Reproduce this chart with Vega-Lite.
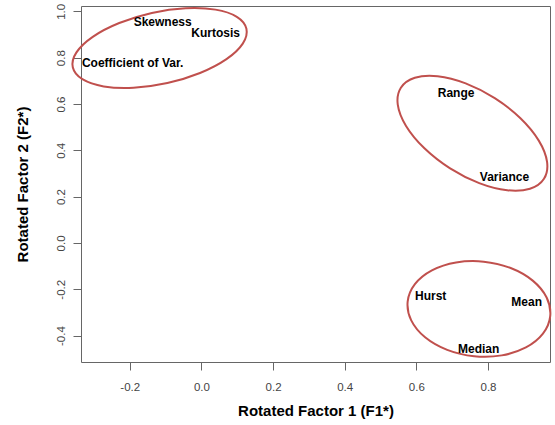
{
  "$schema": "https://vega.github.io/schema/vega-lite/v6.json",
  "autosize": {"type": "none"},
  "padding": {"left": 81, "top": 6, "right": 5, "bottom": 63},
  "width": 469,
  "height": 356,
  "background": "white",
  "config": {
    "view": {"stroke": "#666", "strokeWidth": 1},
    "axis": {
      "grid": false,
      "domain": false,
      "tickColor": "#666",
      "tickSize": 8,
      "tickWidth": 1,
      "labelFont": "Liberation Sans",
      "labelFontSize": 11.5,
      "labelColor": "#444",
      "titleFont": "Liberation Sans",
      "titleFontSize": 15,
      "titleFontWeight": "bold",
      "titleColor": "#000"
    }
  },
  "datasets": {
    "labels": [
      {"name": "Skewness", "f1": -0.108, "f2": 0.954},
      {"name": "Kurtosis", "f1": 0.040, "f2": 0.905},
      {"name": "Coefficient of Var.", "f1": -0.192, "f2": 0.776},
      {"name": "Range", "f1": 0.711, "f2": 0.646},
      {"name": "Variance", "f1": 0.846, "f2": 0.286},
      {"name": "Hurst", "f1": 0.640, "f2": -0.229},
      {"name": "Mean", "f1": 0.908, "f2": -0.253},
      {"name": "Median", "f1": 0.774, "f2": -0.459}
    ],
    "ellipses": [
      {"group": "A", "i": 0, "f1": 0.1257, "f2": 0.9247},
      {"group": "A", "i": 1, "f1": 0.1155, "f2": 0.8605},
      {"group": "A", "i": 2, "f1": 0.0700, "f2": 0.7934},
      {"group": "A", "i": 3, "f1": -0.0038, "f2": 0.7336},
      {"group": "A", "i": 4, "f1": -0.0949, "f2": 0.6903},
      {"group": "A", "i": 5, "f1": -0.1893, "f2": 0.6700},
      {"group": "A", "i": 6, "f1": -0.2726, "f2": 0.6759},
      {"group": "A", "i": 7, "f1": -0.3321, "f2": 0.7069},
      {"group": "A", "i": 8, "f1": -0.3589, "f2": 0.7585},
      {"group": "A", "i": 9, "f1": -0.3487, "f2": 0.8227},
      {"group": "A", "i": 10, "f1": -0.3032, "f2": 0.8899},
      {"group": "A", "i": 11, "f1": -0.2293, "f2": 0.9496},
      {"group": "A", "i": 12, "f1": -0.1383, "f2": 0.9929},
      {"group": "A", "i": 13, "f1": -0.0439, "f2": 1.0132},
      {"group": "A", "i": 14, "f1": 0.0394, "f2": 1.0073},
      {"group": "A", "i": 15, "f1": 0.0989, "f2": 0.9763},
      {"group": "B", "i": 0, "f1": 0.9562, "f2": 0.2770},
      {"group": "B", "i": 1, "f1": 0.9171, "f2": 0.2339},
      {"group": "B", "i": 2, "f1": 0.8536, "f2": 0.2274},
      {"group": "B", "i": 3, "f1": 0.7754, "f2": 0.2582},
      {"group": "B", "i": 4, "f1": 0.6942, "f2": 0.3219},
      {"group": "B", "i": 5, "f1": 0.6225, "f2": 0.4086},
      {"group": "B", "i": 6, "f1": 0.5712, "f2": 0.5052},
      {"group": "B", "i": 7, "f1": 0.5481, "f2": 0.5970},
      {"group": "B", "i": 8, "f1": 0.5568, "f2": 0.6699},
      {"group": "B", "i": 9, "f1": 0.5958, "f2": 0.7130},
      {"group": "B", "i": 10, "f1": 0.6593, "f2": 0.7196},
      {"group": "B", "i": 11, "f1": 0.7376, "f2": 0.6887},
      {"group": "B", "i": 12, "f1": 0.8188, "f2": 0.6250},
      {"group": "B", "i": 13, "f1": 0.8905, "f2": 0.5383},
      {"group": "B", "i": 14, "f1": 0.9417, "f2": 0.4417},
      {"group": "B", "i": 15, "f1": 0.9648, "f2": 0.3499},
      {"group": "C", "i": 0, "f1": 0.9736, "f2": -0.3161},
      {"group": "C", "i": 1, "f1": 0.9533, "f2": -0.3918},
      {"group": "C", "i": 2, "f1": 0.9058, "f2": -0.4513},
      {"group": "C", "i": 3, "f1": 0.8384, "f2": -0.4854},
      {"group": "C", "i": 4, "f1": 0.7612, "f2": -0.4890},
      {"group": "C", "i": 5, "f1": 0.6861, "f2": -0.4615},
      {"group": "C", "i": 6, "f1": 0.6244, "f2": -0.4071},
      {"group": "C", "i": 7, "f1": 0.5857, "f2": -0.3341},
      {"group": "C", "i": 8, "f1": 0.5757, "f2": -0.2536},
      {"group": "C", "i": 9, "f1": 0.5959, "f2": -0.1779},
      {"group": "C", "i": 10, "f1": 0.6434, "f2": -0.1184},
      {"group": "C", "i": 11, "f1": 0.7109, "f2": -0.0843},
      {"group": "C", "i": 12, "f1": 0.7880, "f2": -0.0807},
      {"group": "C", "i": 13, "f1": 0.8632, "f2": -0.1082},
      {"group": "C", "i": 14, "f1": 0.9248, "f2": -0.1626},
      {"group": "C", "i": 15, "f1": 0.9636, "f2": -0.2356}
    ]
  },
  "layer": [
    {
      "data": {"name": "ellipses"},
      "mark": {"type": "line", "interpolate": "cardinal-closed", "stroke": "#C0504D", "strokeWidth": 2, "clip": false},
      "encoding": {
        "x": {
          "field": "f1", "type": "quantitative",
          "scale": {"domain": [-0.336, 0.973], "nice": false, "zero": false},
          "axis": {"values": [-0.2, 0, 0.2, 0.4, 0.6, 0.8], "labelExpr": "replace(format(datum.value, '.1f'), '\u2212', '-')", "labelPadding": 11, "title": "Rotated Factor 1 (F1*)", "titlePadding": 11}
        },
        "y": {
          "field": "f2", "type": "quantitative",
          "scale": {"domain": [-0.514, 1.023], "nice": false, "zero": false},
          "axis": {"values": [-0.4, -0.2, 0, 0.2, 0.4, 0.6, 0.8, 1.0], "labelExpr": "replace(format(datum.value, '.1f'), '\u2212', '-')", "labelAngle": 270, "labelAlign": "center", "labelBaseline": "bottom", "labelPadding": 7, "title": "Rotated Factor 2 (F2*)", "titlePadding": 25}
        },
        "detail": {"field": "group", "type": "nominal"},
        "order": {"field": "i", "type": "quantitative"}
      }
    },
    {
      "data": {"name": "labels"},
      "mark": {"type": "text", "font": "Liberation Sans", "fontSize": 12, "fontWeight": "bold", "color": "#000", "align": "center", "baseline": "middle"},
      "encoding": {
        "x": {"field": "f1", "type": "quantitative"},
        "y": {"field": "f2", "type": "quantitative"},
        "text": {"field": "name", "type": "nominal"}
      }
    }
  ]
}
